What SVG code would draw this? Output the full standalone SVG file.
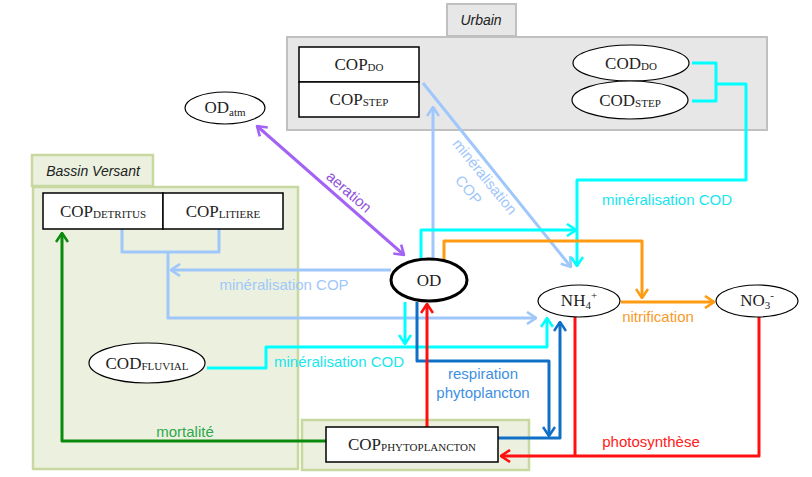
<svg xmlns="http://www.w3.org/2000/svg" width="812" height="477" viewBox="0 0 812 477">
<style>
.grpU{fill:#e7e7e7;stroke:#c0c0c0;stroke-width:2}
.grpG{fill:#ebf1de;stroke:#c7d9a0;stroke-width:2.5}
.box{fill:#fff;stroke:#000;stroke-width:1.5}
.ell{fill:#fff;stroke:#000;stroke-width:1.2}
.nt{font-family:"Liberation Serif","Times New Roman",serif;font-size:17px;fill:#222;text-anchor:middle}
.sc{font-size:11px}
.gt{font-family:"Liberation Sans",Arial,sans-serif;font-style:italic;font-size:14px;fill:#222;text-anchor:middle}
.lb{font-family:"Liberation Sans",Arial,sans-serif;font-size:15px;text-anchor:middle}
.c{fill:none;stroke-width:3;stroke-linejoin:round}
.lblue{stroke:#9fc7fa}
.cyan{stroke:#00ffff}
.dblue{stroke:#1070c8}
.red{stroke:#ff1010}
.orange{stroke:#ff9b12}
.green{stroke:#0a8a0a}
.purple{stroke:#a263f5}
</style>
<defs>
<marker id="aLB" viewBox="0 0 11 14" refX="10" refY="7" markerWidth="11" markerHeight="14" markerUnits="userSpaceOnUse" orient="auto-start-reverse"><path d="M1,1 L10,7 L1,13" fill="none" stroke="#9fc7fa" stroke-width="2.6"/></marker>
<marker id="aCY" viewBox="0 0 11 14" refX="10" refY="7" markerWidth="11" markerHeight="14" markerUnits="userSpaceOnUse" orient="auto-start-reverse"><path d="M1,1 L10,7 L1,13" fill="none" stroke="#00ffff" stroke-width="2.6"/></marker>
<marker id="aDB" viewBox="0 0 11 14" refX="10" refY="7" markerWidth="11" markerHeight="14" markerUnits="userSpaceOnUse" orient="auto-start-reverse"><path d="M1,1 L10,7 L1,13" fill="none" stroke="#1070c8" stroke-width="2.6"/></marker>
<marker id="aRD" viewBox="0 0 11 14" refX="10" refY="7" markerWidth="11" markerHeight="14" markerUnits="userSpaceOnUse" orient="auto-start-reverse"><path d="M1,1 L10,7 L1,13" fill="none" stroke="#ff1010" stroke-width="2.6"/></marker>
<marker id="aOR" viewBox="0 0 11 14" refX="10" refY="7" markerWidth="11" markerHeight="14" markerUnits="userSpaceOnUse" orient="auto-start-reverse"><path d="M1,1 L10,7 L1,13" fill="none" stroke="#ff9b12" stroke-width="2.6"/></marker>
<marker id="aGR" viewBox="0 0 11 14" refX="10" refY="7" markerWidth="11" markerHeight="14" markerUnits="userSpaceOnUse" orient="auto-start-reverse"><path d="M1,1 L10,7 L1,13" fill="none" stroke="#0a8a0a" stroke-width="2.6"/></marker>
<marker id="aPU" viewBox="0 0 11 14" refX="10" refY="7" markerWidth="11" markerHeight="14" markerUnits="userSpaceOnUse" orient="auto-start-reverse"><path d="M1,1 L10,7 L1,13" fill="none" stroke="#a263f5" stroke-width="2.6"/></marker>
</defs>

<g id="groups">
<g id="urbain">
<rect class="grpU" x="447" y="4" width="69" height="32"/>
<rect class="grpU" x="287" y="37" width="480" height="93"/>
<text class="gt" x="481" y="25">Urbain</text>
</g>
<g id="bassin-versant">
<rect class="grpG" x="32" y="155" width="121" height="31"/>
<rect class="grpG" x="33" y="187" width="265" height="282"/>
<text class="gt" x="93" y="176">Bassin Versant</text>
</g>
<g id="phyto-group">
<rect class="grpG" x="302" y="420" width="227" height="50"/>
</g>
</g>

<g id="connectors">
<!-- light blue -->
<path class="c lblue" d="M122,229 V252 H219 V229"/>
<path class="c lblue" d="M168,252 V318 H536" marker-end="url(#aLB)"/>
<path class="c lblue" d="M391,270 H171" marker-end="url(#aLB)"/>
<path class="c lblue" d="M433,259 V107" marker-end="url(#aLB)"/>
<path class="c lblue" d="M423,83 L571,267" marker-end="url(#aLB)"/>
<!-- cyan -->
<path class="c cyan" d="M692,63 H716 V101 H692"/>
<path class="c cyan" d="M716,84 H746 V180 H577 V266" marker-end="url(#aCY)"/>
<path class="c cyan" d="M421,261 V230 H576" marker-end="url(#aCY)"/>
<path class="c cyan" d="M405,302 V344" marker-end="url(#aCY)"/>
<path class="c cyan" d="M207,368 H266 V347 H547 V318" marker-end="url(#aCY)"/>
<!-- orange -->
<path class="c orange" d="M444,262 V241 H642 V298" marker-end="url(#aOR)"/>
<path class="c orange" d="M621,302 H714" marker-end="url(#aOR)"/>
<!-- purple -->
<path class="c purple" d="M257,126 L404,255" marker-start="url(#aPU)" marker-end="url(#aPU)"/>
<!-- dark blue -->
<path class="c dblue" d="M417,302 V361 H549 V436" marker-end="url(#aDB)"/>
<path class="c dblue" d="M498,438 H560 V322" marker-end="url(#aDB)"/>
<!-- red -->
<path class="c red" d="M427,427 V304" marker-end="url(#aRD)"/>
<path class="c red" d="M575,317 V456"/>
<path class="c red" d="M759,317 V456 H501" marker-end="url(#aRD)"/>
<!-- green -->
<path class="c green" d="M326,441 H62 V233" marker-end="url(#aGR)"/>

<!-- labels -->
<text class="lb" fill="#8e52dc" transform="translate(349,192) rotate(41)" x="0" y="5">aeration</text>
<g transform="translate(477,183) rotate(51)">
<text class="lb" fill="#9fc7fa" x="0" y="-5">minéralisation</text>
<text class="lb" fill="#9fc7fa" x="0" y="16">COP</text>
</g>
<text class="lb" fill="#16e6ee" x="667" y="205">minéralisation COD</text>
<text class="lb" fill="#9fc7fa" x="284" y="290">minéralisation COP</text>
<text class="lb" fill="#16e6ee" x="339" y="367">minéralisation COD</text>
<text class="lb" fill="#3e8fe2" x="483" y="379">respiration</text>
<text class="lb" fill="#3e8fe2" x="483" y="398">phytoplancton</text>
<text class="lb" fill="#f79a2a" x="658" y="322">nitrification</text>
<text class="lb" fill="#ff2020" x="651" y="447">photosynthèse</text>
<text class="lb" fill="#2ea84e" x="185" y="437">mortalité</text>
</g>

<g id="cop-do">
<rect class="box" x="299" y="47" width="120" height="35"/>
<text class="nt" x="359" y="70">COP<tspan class="sc" dy="1">DO</tspan></text>
</g>
<g id="cop-step">
<rect class="box" x="299" y="82" width="120" height="35"/>
<text class="nt" x="359" y="105">COP<tspan class="sc" dy="1">STEP</tspan></text>
</g>
<g id="cod-do">
<ellipse class="ell" cx="631" cy="63" rx="58" ry="18"/>
<text class="nt" x="631" y="69">COD<tspan class="sc" dy="1">DO</tspan></text>
</g>
<g id="cod-step">
<ellipse class="ell" cx="630" cy="100" rx="58" ry="19"/>
<text class="nt" x="630" y="106">COD<tspan class="sc" dy="1">STEP</tspan></text>
</g>
<g id="od-atm">
<ellipse class="ell" cx="225" cy="108" rx="40" ry="16"/>
<text class="nt" x="225" y="113">OD<tspan class="sc" dy="3">atm</tspan></text>
</g>
<g id="cop-detritus">
<rect class="box" x="43" y="193" width="120" height="36"/>
<text class="nt" x="103" y="217">COP<tspan class="sc" dy="1">DETRITUS</tspan></text>
</g>
<g id="cop-litiere">
<rect class="box" x="163" y="193" width="120" height="36"/>
<text class="nt" x="223" y="217">COP<tspan class="sc" dy="1">LITIERE</tspan></text>
</g>
<g id="cod-fluvial">
<ellipse class="ell" cx="147" cy="363" rx="58" ry="20"/>
<text class="nt" x="147" y="369">COD<tspan class="sc" dy="1">FLUVIAL</tspan></text>
</g>
<g id="od">
<ellipse cx="429" cy="280" rx="38" ry="21" fill="#fff" stroke="#000" stroke-width="3"/>
<text class="nt" x="429" y="286">OD</text>
</g>
<g id="nh4">
<ellipse class="ell" cx="579" cy="301" rx="41" ry="16"/>
<text class="nt" x="579" y="306">NH<tspan class="sc" dy="3">4</tspan><tspan class="sc" font-size="10" dy="-10">+</tspan></text>
</g>
<g id="no3">
<ellipse class="ell" cx="757" cy="301" rx="41" ry="16"/>
<text class="nt" x="757" y="306">NO<tspan class="sc" dy="3">3</tspan><tspan class="sc" font-size="10" dy="-10">-</tspan></text>
</g>
<g id="cop-phyto">
<rect class="box" x="326" y="427" width="172" height="35"/>
<text class="nt" x="412" y="450">COP<tspan class="sc" dy="1">PHYTOPLANCTON</tspan></text>
</g>
</svg>
